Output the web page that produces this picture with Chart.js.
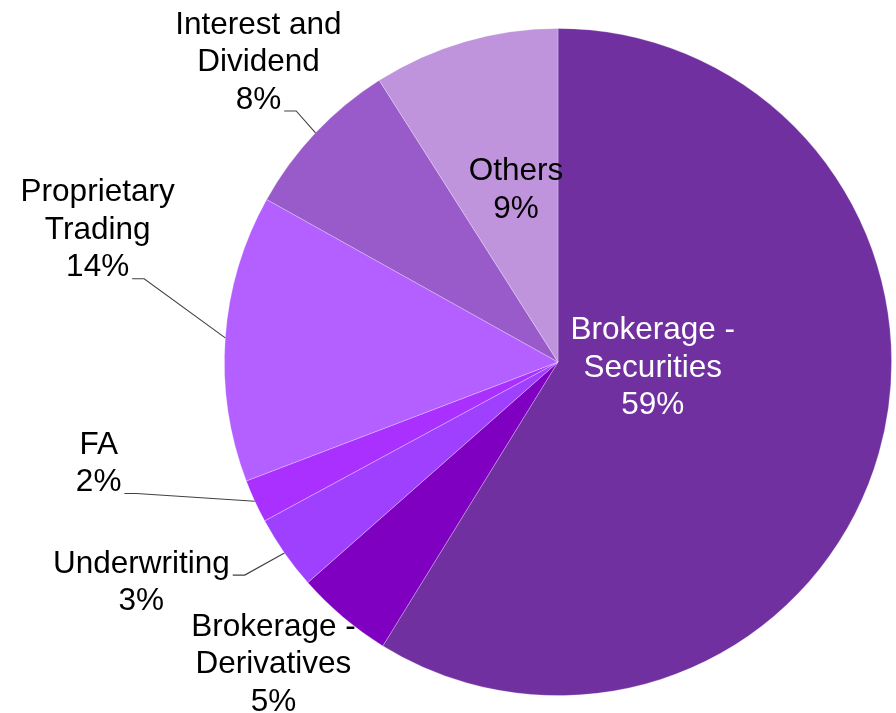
<!DOCTYPE html>
<html>
<head>
<meta charset="utf-8">
<script src="https://cdn.jsdelivr.net/npm/chart.js@4/dist/chart.umd.min.js"></script>
<style>
  html, body { margin: 0; padding: 0; background: #ffffff; }
  #wrap { width: 896px; height: 713px; position: relative; }
</style>
</head>
<body>
<div id="wrap"><canvas id="c" width="896" height="713"></canvas></div>
<script>
// ---- Data ----
const categories = [
  "Brokerage - Securities",
  "Brokerage - Derivatives",
  "Underwriting",
  "FA",
  "Proprietary Trading",
  "Interest and Dividend",
  "Others"
];
const shares = [58.8, 4.7, 3.6, 2.1, 13.9, 7.9, 9.0];
const percentLabels = ["59%", "5%", "3%", "2%", "14%", "8%", "9%"];
const labelLines = [
  ["Brokerage -", "Securities"],
  ["Brokerage -", "Derivatives"],
  ["Underwriting"],
  ["FA"],
  ["Proprietary", "Trading"],
  ["Interest and", "Dividend"],
  ["Others"]
];

// ---- Styles ----
const sliceColors = ["#7030A0", "#8000C2", "#A040FF", "#AA30FF", "#B45FFF", "#9A5BCA", "#BF94DD"];
const labelColors = ["#ffffff", "#000000", "#000000", "#000000", "#000000", "#000000", "#000000"];
// label block centre, in units of the pie radius from the pie centre
const labelPos = [
  [0.284, 0.018],
  [-0.853, 0.907],
  [-1.249, 0.662],
  [-1.377, 0.305],
  [-1.380, -0.395],
  [-0.898, -0.898],
  [-0.126, -0.515]
];
// leader: index of the text line the leader line attaches to (-1 = none)
const leaderLine = [-1, -1, 0, 1, 2, 2, -1];

const FONT = '31.5px "Liberation Sans", Arial, sans-serif';
const LINE_H = 37.5;

const labelPlugin = {
  id: 'pieLabels',
  afterDatasetsDraw(chart) {
    const ctx = chart.ctx;
    const meta = chart.getDatasetMeta(0);
    ctx.save();
    ctx.font = FONT;
    ctx.textAlign = 'center';
    ctx.textBaseline = 'middle';
    meta.data.forEach((arc, i) => {
      const p = arc.getProps(['x', 'y', 'startAngle', 'endAngle', 'outerRadius'], true);
      const R = p.outerRadius;
      const cx = p.x + labelPos[i][0] * R;
      const cy = p.y + labelPos[i][1] * R;
      const lines = labelLines[i].concat([percentLabels[i]]);
      const y0 = cy - (lines.length - 1) * LINE_H / 2;
      ctx.fillStyle = labelColors[i];
      lines.forEach((t, k) => ctx.fillText(t, cx, y0 + k * LINE_H));
      const li = leaderLine[i];
      if (li >= 0) {
        const w = ctx.measureText(lines[li]).width;
        const sx = cx + w / 2 + 3;
        const sy = y0 + li * LINE_H + 11;
        const mid = (p.startAngle + p.endAngle) / 2;
        const ex = p.x + R * Math.cos(mid);
        const ey = p.y + R * Math.sin(mid);
        ctx.beginPath();
        ctx.strokeStyle = '#404040';
        ctx.lineWidth = 1.1;
        ctx.moveTo(sx, sy);
        ctx.lineTo(sx + 12, sy);
        ctx.lineTo(ex, ey);
        ctx.stroke();
      }
    });
    ctx.restore();
  }
};

new Chart(document.getElementById('c'), {
  type: 'pie',
  data: {
    labels: categories,
    datasets: [{
      data: shares,
      backgroundColor: sliceColors,
      borderColor: 'rgba(255,255,255,0.35)',
      borderWidth: 0.8
    }]
  },
  options: {
    responsive: false,
    animation: false,
    layout: { padding: { left: 224, right: 4, top: 28, bottom: 17 } },
    plugins: {
      legend: { display: false },
      tooltip: { enabled: false }
    }
  },
  plugins: [labelPlugin]
});
</script>
</body>
</html>
